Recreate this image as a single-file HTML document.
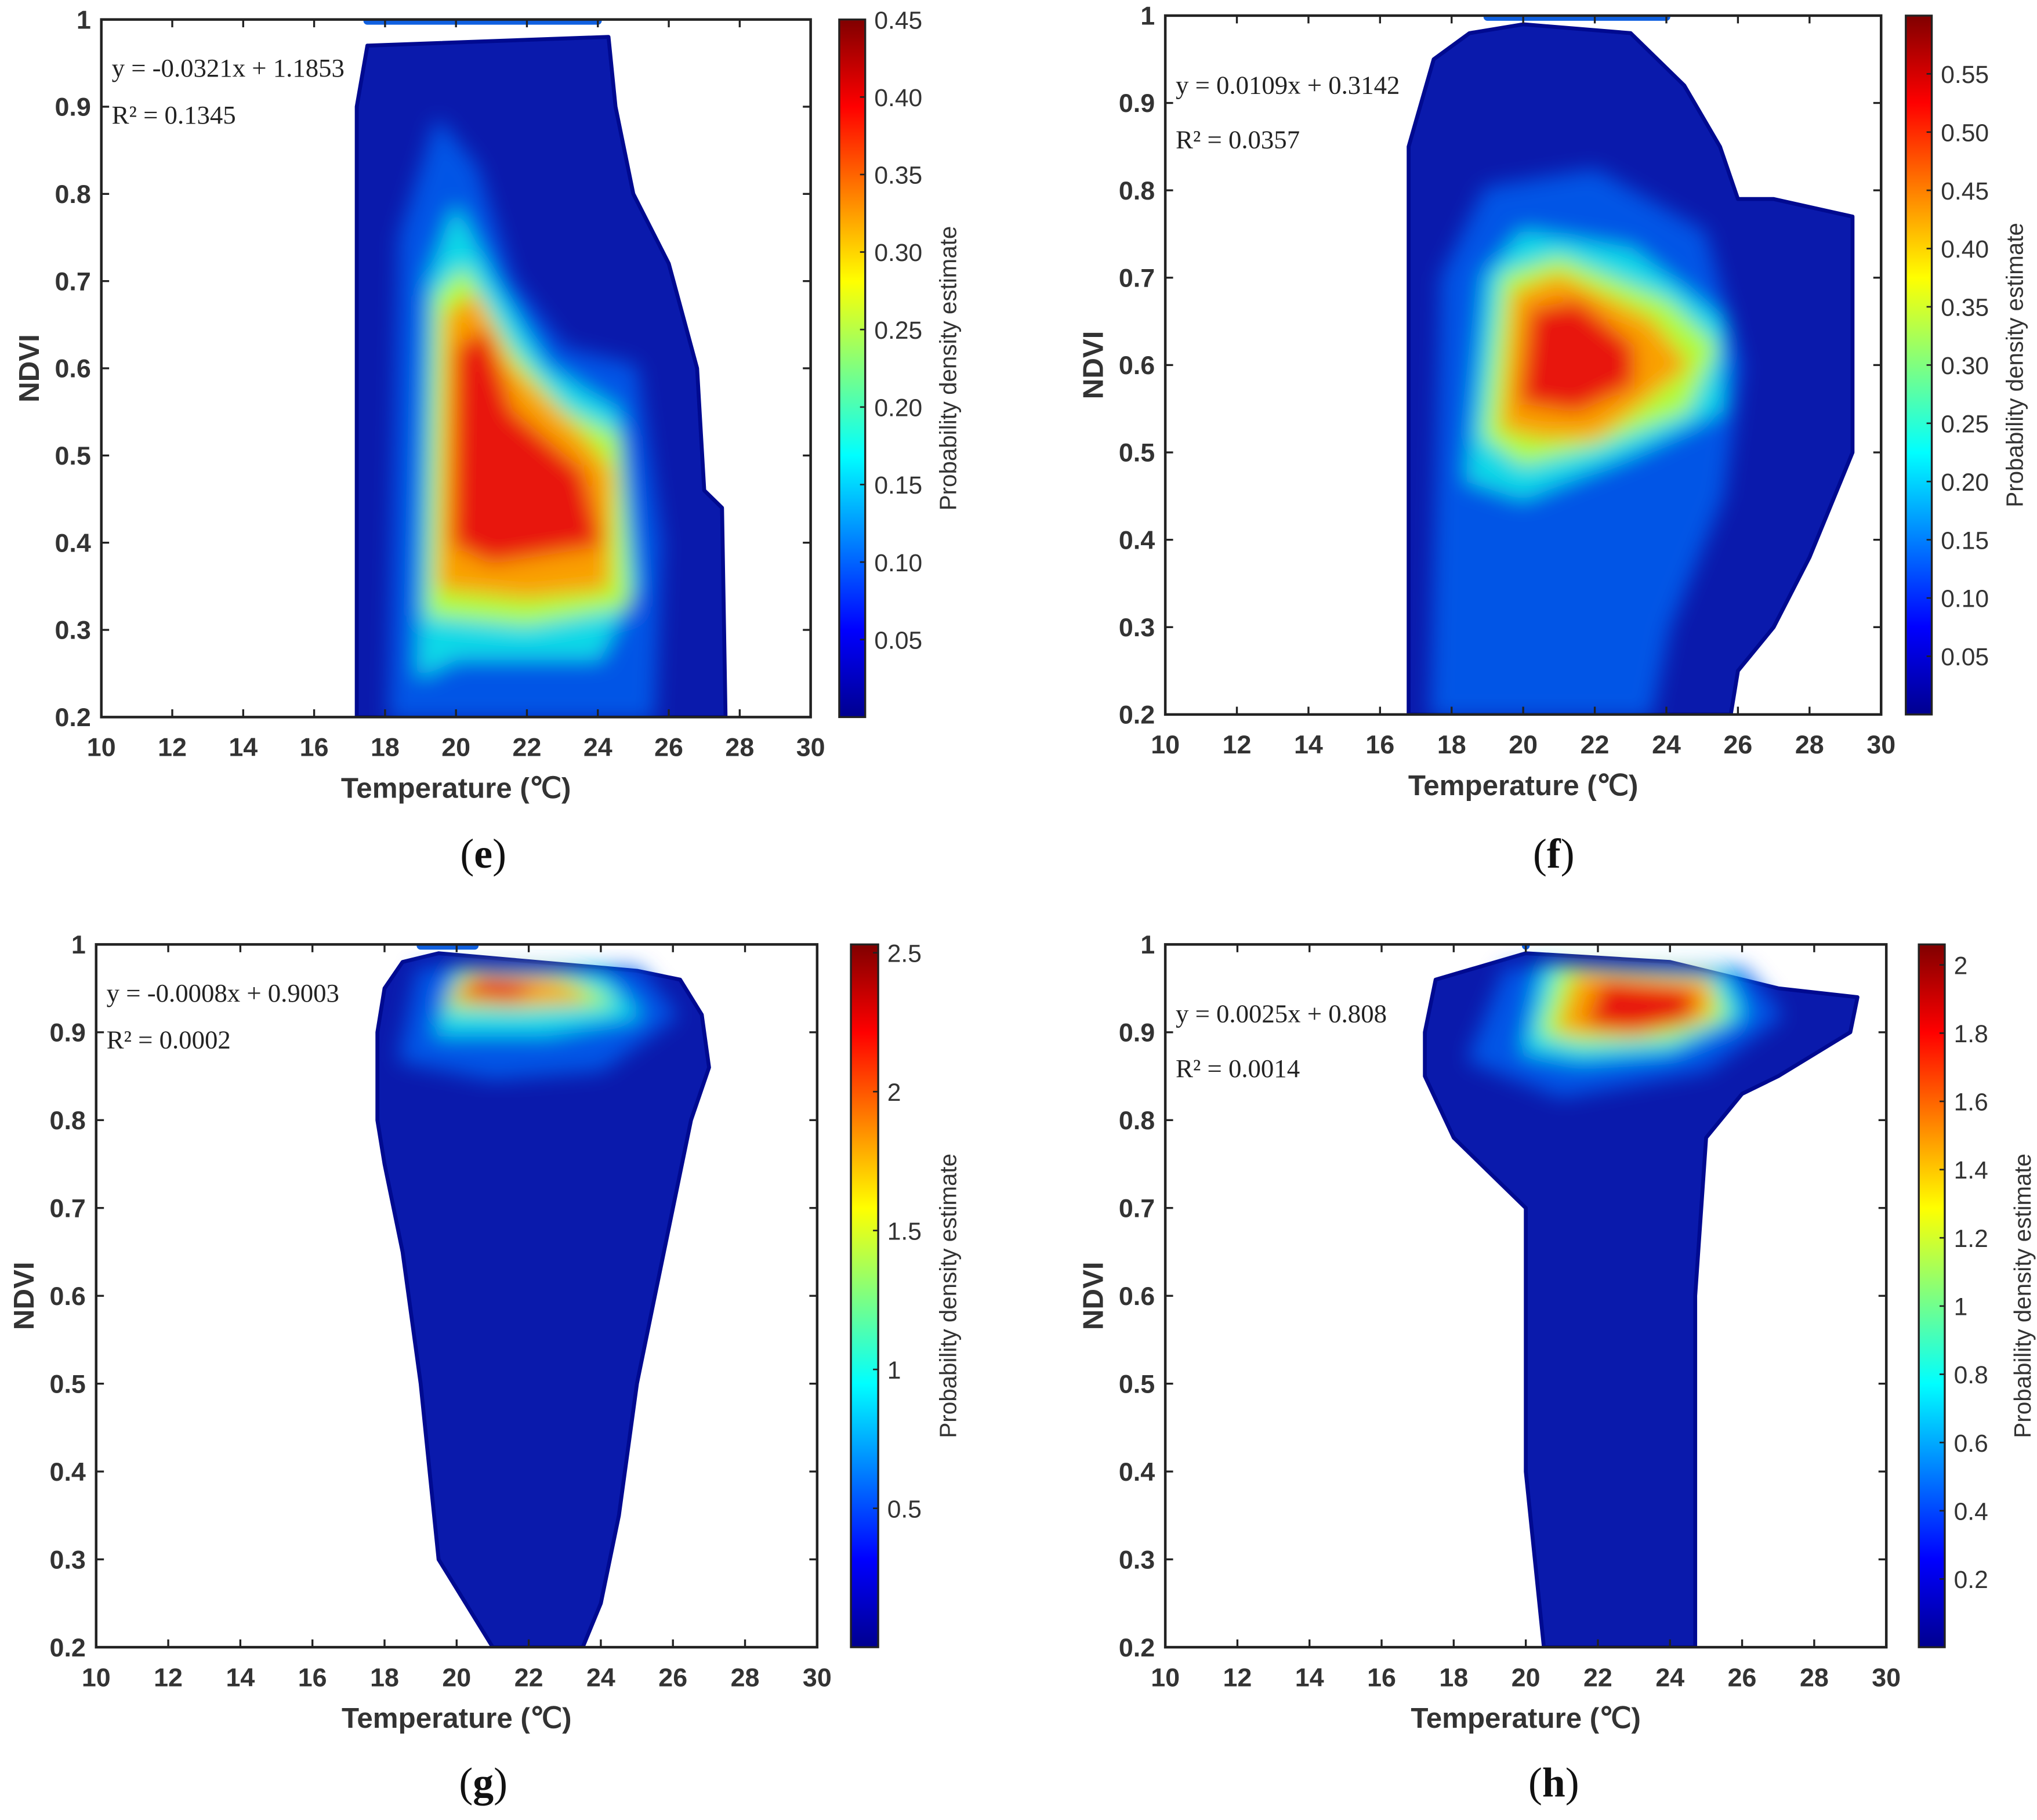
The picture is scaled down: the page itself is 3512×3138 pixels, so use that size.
<!DOCTYPE html>
<html><head><meta charset="utf-8"><style>
html,body{margin:0;padding:0;background:#fff}
svg{display:block}
</style></head><body>
<svg id="fig" xmlns="http://www.w3.org/2000/svg" width="3512" height="3138" viewBox="0 0 1568 1401">
<defs>
<filter id="blur" x="-20%" y="-20%" width="140%" height="140%"><feGaussianBlur stdDeviation="8"/></filter>
<linearGradient id="jet" x1="0" y1="1" x2="0" y2="0">
<stop offset="0" stop-color="#00008f"/><stop offset="0.125" stop-color="#0000ff"/><stop offset="0.375" stop-color="#00ffff"/><stop offset="0.625" stop-color="#ffff00"/><stop offset="0.875" stop-color="#ff0000"/><stop offset="1" stop-color="#800000"/>
</linearGradient>
</defs>
<rect width="1568" height="1401" fill="#fff"/>
</svg>
<script>
// ---- data ----
const xTicks = [10,12,14,16,18,20,22,24,26,28,30];
const yTicks = [0.2,0.3,0.4,0.5,0.6,0.7,0.8,0.9,1];
const yTickLabels = ["0.2","0.3","0.4","0.5","0.6","0.7","0.8","0.9","1"];
const panelIds = ["e","f","g","h"];
const equations = ["y = -0.0321x + 1.1853","y = 0.0109x + 0.3142","y = -0.0008x + 0.9003","y = 0.0025x + 0.808"];
const rSquared = ["R² = 0.1345","R² = 0.0357","R² = 0.0002","R² = 0.0014"];
const cbarMax = [0.45,0.6,2.53,2.06];
const cbarTicksE = [0.05,0.10,0.15,0.20,0.25,0.30,0.35,0.40,0.45];
const cbarTicksF = [0.05,0.10,0.15,0.20,0.25,0.30,0.35,0.40,0.45,0.50,0.55];
const cbarTicksG = [0.5,1,1.5,2,2.5];
const cbarTicksH = [0.2,0.4,0.6,0.8,1,1.2,1.4,1.6,1.8,2];
const cbarLabE = ["0.05","0.10","0.15","0.20","0.25","0.30","0.35","0.40","0.45"];
const cbarLabF = ["0.05","0.10","0.15","0.20","0.25","0.30","0.35","0.40","0.45","0.50","0.55"];
const cbarLabG = ["0.5","1","1.5","2","2.5"];
const cbarLabH = ["0.2","0.4","0.6","0.8","1","1.2","1.4","1.6","1.8","2"];
// envelopes (temperature, ndvi)
const envE = [[17.2,0.2],[17.2,0.9],[17.5,0.97],[24.3,0.98],[24.5,0.9],[25,0.8],[26,0.72],[26.8,0.6],[27,0.46],[27.5,0.44],[27.6,0.2]];
const envF = [[16.8,0.2],[16.8,0.85],[17.5,0.95],[18.5,0.98],[20,0.99],[23,0.98],[24.5,0.92],[25.5,0.85],[26,0.79],[27,0.79],[29.2,0.77],[29.2,0.5],[28,0.38],[27,0.3],[26,0.25],[25.8,0.2]];
const envG = [[18,0.95],[18.5,0.98],[19.5,0.99],[25,0.97],[26.2,0.96],[26.8,0.92],[27,0.86],[26.5,0.8],[26,0.7],[25.5,0.6],[25,0.5],[24.5,0.35],[24,0.25],[23.5,0.2],[21,0.2],[19.5,0.3],[19,0.5],[18.5,0.65],[18,0.75],[17.8,0.8],[17.8,0.9]];
const envH = [[17.2,0.9],[17.5,0.96],[20,0.99],[24,0.98],[27,0.95],[29.2,0.94],[29,0.9],[27,0.85],[26,0.83],[25,0.78],[24.7,0.6],[24.7,0.2],[20.5,0.2],[20,0.4],[20,0.7],[18,0.78],[17.2,0.85]];
// top stripe at NDVI=1 (from, to)
const topLine = [[17.5,24],[19,24],[19,20.5],[20,20]];
const levE = [
 [[18.2,0.2],[18.5,0.75],[19.5,0.88],[20.5,0.83],[21.5,0.7],[23,0.62],[25,0.6],[25.7,0.4],[25.5,0.2]],
 [[19,0.25],[19.3,0.7],[20,0.78],[21,0.7],[22.5,0.6],[24.5,0.55],[25,0.35],[24,0.27],[20,0.27]],
 [[19.3,0.32],[19.5,0.68],[20.2,0.71],[21.5,0.62],[23,0.55],[24.5,0.52],[24.8,0.33],[22,0.31]],
 [[19.6,0.35],[19.8,0.66],[20.5,0.68],[21.5,0.6],[23.5,0.52],[24.3,0.48],[24.2,0.35],[22,0.34]],
 [[20,0.4],[20.1,0.62],[20.8,0.64],[21.5,0.55],[23.5,0.48],[24,0.4],[21,0.38]]];
const levF = [
 [[17.5,0.2],[17.8,0.7],[19,0.8],[22,0.82],[25,0.75],[26,0.6],[25.5,0.45],[24,0.3],[23.5,0.2]],
 [[18.5,0.47],[19,0.7],[20,0.75],[23,0.73],[25.5,0.65],[25.5,0.55],[23,0.5],[20,0.45]],
 [[19,0.52],[19.5,0.7],[21,0.72],[24,0.67],[25.3,0.62],[24.5,0.55],[22,0.51],[20,0.49]],
 [[19.5,0.53],[19.8,0.68],[21,0.7],[23.5,0.65],[24.5,0.6],[23,0.55],[22,0.52],[20.5,0.52]],
 [[20,0.56],[20.3,0.66],[21.5,0.67],[23,0.62],[23,0.58],[21.5,0.55]]];
const levG = [
 [[18.5,0.87],[19,0.97],[25,0.97],[26,0.92],[24,0.86],[21,0.85]],
 [[19.5,0.9],[20,0.97],[24,0.965],[25,0.92],[22.5,0.9]],
 [[19.8,0.93],[20.2,0.965],[23,0.96],[24.2,0.935],[22,0.93]],
 [[20,0.94],[20.5,0.962],[22.5,0.958],[23.5,0.94],[21.5,0.935]],
 [[20.2,0.945],[21,0.96],[22,0.952],[21.5,0.94]]];
const levH = [
 [[18.5,0.87],[19.5,0.97],[26,0.97],[27,0.92],[25,0.86],[21,0.83]],
 [[20,0.88],[20.5,0.975],[25.5,0.965],[26,0.92],[24,0.88],[21.5,0.87]],
 [[20.5,0.9],[21,0.97],[25,0.96],[25.5,0.92],[24,0.895],[21.5,0.89]],
 [[21,0.905],[21.5,0.965],[25,0.955],[25,0.92],[23,0.9]],
 [[21.8,0.91],[22.2,0.955],[24.5,0.945],[24.5,0.915],[23,0.905]]];
const levelColors = ["#0060f0","#10e0e8","#b8ff30","#ff9a00","#e81010"];
// layout
const boxes = [{x0:78,x1:624,y0:15,y1:552,cx:646,cw:20,cap:[372,668]},
               {x0:897,x1:1448,y0:12,y1:550,cx:1467,cw:20,cap:[1196,668]},
               {x0:74,x1:629,y0:727,y1:1268,cx:655,cw:21,cap:[372,1383]},
               {x0:897,x1:1452,y0:727,y1:1268,cx:1477,cw:20,cap:[1196,1383]}];
const envs=[envE,envF,envG,envH], levs=[levE,levF,levG,levH];
const cTicks=[cbarTicksE,cbarTicksF,cbarTicksG,cbarTicksH], cLabs=[cbarLabE,cbarLabF,cbarLabG,cbarLabH];
const cLabOffset=[70,70,60,66];

const NS="http://www.w3.org/2000/svg", svg=document.getElementById('fig');
function mk(tag,attrs,parent,text){const e=document.createElementNS(NS,tag);for(const k in attrs)e.setAttribute(k,attrs[k]);if(text!==undefined)e.textContent=text;(parent||svg).appendChild(e);return e;}
const sans='"Liberation Sans", Arial, sans-serif', serif='"Liberation Serif", serif';

boxes.forEach((b,i)=>{
  const sx=t=>b.x0+(t-10)/20*(b.x1-b.x0);
  const sy=v=>b.y1-(v-0.2)/0.8*(b.y1-b.y0);
  const g=mk('g',{});
  
  
  const clipId='clip'+i;
  const cp=mk('clipPath',{id:clipId},g);mk('rect',{x:b.x0,y:b.y0,width:b.x1-b.x0,height:b.y1-b.y0},cp);
  const plot=mk('g',{'clip-path':'url(#'+clipId+')'},g);
  const pts=a=>a.map(p=>sx(p[0]).toFixed(1)+','+sy(p[1]).toFixed(1)).join(' ');
  const env=mk('polygon',{points:pts(envs[i]),fill:'#0a1aac',stroke:'#000a90','stroke-width':3,'stroke-linejoin':'round'},plot);
  
  
  const tl=topLine[i];
  const line=mk('line',{x1:sx(tl[0]),x2:sx(tl[1]),y1:sy(1)+1,y2:sy(1)+1,stroke:'#1060e0','stroke-width':6,'stroke-linecap':'round'},plot);
  
  
  const dens=mk('g',{filter:'url(#blur)'},plot);
  levs[i].forEach((poly,k)=>{
    const p=mk('polygon',{points:pts(poly),fill:levelColors[k],'stroke-linejoin':'round',stroke:levelColors[k],'stroke-width':6,opacity:k===0?0.85:0.95},dens);
    
    
  });
  const frame=mk('rect',{x:b.x0,y:b.y0,width:b.x1-b.x0,height:b.y1-b.y0,fill:'none',stroke:'#222','stroke-width':2},g);
  
  
  xTicks.forEach(t=>{
    const x=sx(t);
    mk('line',{x1:x,x2:x,y1:b.y1,y2:b.y1-6,stroke:'#222','stroke-width':1.5},g);
    mk('line',{x1:x,x2:x,y1:b.y0,y2:b.y0+6,stroke:'#222','stroke-width':1.5},g);
    const tx=mk('text',{x:x,y:b.y1+30,'font-family':sans,'font-size':20,'font-weight':'bold','text-anchor':'middle',fill:'#333'},g,String(t));
    
    
  });
  yTicks.forEach((v,k)=>{
    const y=sy(v);
    mk('line',{x1:b.x0,x2:b.x0+6,y1:y,y2:y,stroke:'#222','stroke-width':1.5},g);
    mk('line',{x1:b.x1,x2:b.x1-6,y1:y,y2:y,stroke:'#222','stroke-width':1.5},g);
    const tx=mk('text',{x:b.x0-8,y:y+7,'font-family':sans,'font-size':20,'font-weight':'bold','text-anchor':'end',fill:'#333'},g,yTickLabels[k]);
    
    
  });
  const xl=mk('text',{x:(b.x0+b.x1)/2,y:b.y1+62,'font-family':sans,'font-size':22,'font-weight':'bold','text-anchor':'middle',fill:'#333'},g,'Temperature (℃)');
  
  
  const yl=mk('text',{x:0,y:0,transform:'translate('+(b.x0-48)+','+((b.y0+b.y1)/2)+') rotate(-90)','font-family':sans,'font-size':22,'font-weight':'bold','text-anchor':'middle',fill:'#333'},g,'NDVI');
  
  
  const eq=mk('text',{x:b.x0+8,y:b.y0+(i%2?60:44),'font-family':serif,'font-size':20,fill:'#222'},g,equations[i]);
  
  
  const r2=mk('text',{x:b.x0+8,y:b.y0+(i%2?102:80),'font-family':serif,'font-size':20,fill:'#222'},g,rSquared[i]);
  
  
  const cb=mk('rect',{x:b.cx,y:b.y0,width:b.cw,height:b.y1-b.y0,fill:'url(#jet)',stroke:'#222','stroke-width':1.5},g);
  
  
  const cy=v=>b.y1-v/cbarMax[i]*(b.y1-b.y0);
  cTicks[i].forEach((v,k)=>{
    const y=cy(v);
    mk('line',{x1:b.cx+b.cw-4,x2:b.cx+b.cw,y1:y,y2:y,stroke:'#222','stroke-width':1.2},g);
    const tx=mk('text',{x:b.cx+b.cw+7,y:y+7,'font-family':sans,'font-size':19,fill:'#333'},g,cLabs[i][k]);
    
    
  });
  const cl=mk('text',{x:0,y:0,transform:'translate('+(b.cx+b.cw+cLabOffset[i])+','+((b.y0+b.y1)/2)+') rotate(-90)','font-family':sans,'font-size':18,'text-anchor':'middle',fill:'#333'},g,'Probability density estimate');
  
  
  const cap=mk('text',{x:b.cap[0],y:b.cap[1],'font-family':serif,'font-size':32,'text-anchor':'middle',fill:'#111'},g);
  
  
  mk('tspan',{},cap,'(');mk('tspan',{'font-weight':'bold'},cap,panelIds[i]);mk('tspan',{},cap,')');
});
</script>
</body></html>
